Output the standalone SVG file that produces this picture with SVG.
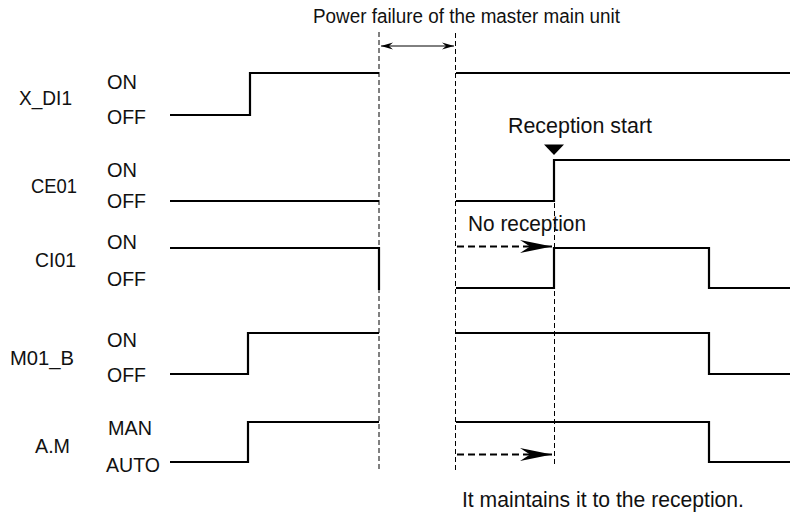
<svg xmlns="http://www.w3.org/2000/svg" width="790" height="517" viewBox="0 0 790 517">
<style>
text{font-family:"Liberation Sans",Arial,sans-serif;font-size:21px;fill:#111}
.big{font-size:21.5px}
.wave{fill:none;stroke:#000;stroke-width:2.2;stroke-linejoin:miter}
.guide{fill:none;stroke:#000;stroke-width:1;stroke-dasharray:5,3}
.darrow{fill:none;stroke:#000;stroke-width:2;stroke-dasharray:7,4}
.thin{fill:none;stroke:#000;stroke-width:1}
</style>
<defs>
<marker id="bighead" markerUnits="userSpaceOnUse" viewBox="-33 -7 34 14" refX="0" refY="0" markerWidth="34" markerHeight="14" orient="auto">
<path d="M0 0 L-32 -6.5 L-22 0 L-32 6.5 Z" fill="#000"/>
</marker>
<marker id="smallhead" markerUnits="userSpaceOnUse" viewBox="-13 -4 14 8" refX="0" refY="0" markerWidth="14" markerHeight="8" orient="auto-start-reverse">
<path d="M0 0 L-12 -3.5 L-8 0 L-12 3.5 Z" fill="#000"/>
</marker>
</defs>
<rect width="790" height="517" fill="#fff"/>
<g id="guides">
<line class="guide" x1="379" y1="32" x2="379" y2="472"/>
<line class="guide" x1="455.5" y1="33" x2="455.5" y2="472"/>
<line class="guide" x1="554.5" y1="203" x2="554.5" y2="467"/>
</g>
<g id="sig-xdi1">
<text x="19" y="105" textLength="53" lengthAdjust="spacingAndGlyphs">X_DI1</text>
<text x="107" y="89" textLength="30" lengthAdjust="spacingAndGlyphs">ON</text>
<text x="107" y="124" textLength="39" lengthAdjust="spacingAndGlyphs">OFF</text>
<path class="wave" d="M170 115 H250 V73 H379"/>
<path class="wave" d="M456 73 H790"/>
</g>
<g id="sig-ce01">
<text x="31" y="193" textLength="46" lengthAdjust="spacingAndGlyphs">CE01</text>
<text x="107" y="177" textLength="30" lengthAdjust="spacingAndGlyphs">ON</text>
<text x="107" y="208" textLength="39" lengthAdjust="spacingAndGlyphs">OFF</text>
<path class="wave" d="M170 201 H379"/>
<path class="wave" d="M456 201 H554 V160 H790"/>
</g>
<g id="sig-ci01">
<text x="35" y="267" textLength="41" lengthAdjust="spacingAndGlyphs">CI01</text>
<text x="107" y="249" textLength="30" lengthAdjust="spacingAndGlyphs">ON</text>
<text x="107" y="286" textLength="39" lengthAdjust="spacingAndGlyphs">OFF</text>
<path class="wave" d="M170 248 H379 V290"/>
<path class="wave" d="M456 288 H554 V248 H709 V288 H790"/>
</g>
<g id="sig-m01b">
<text x="10" y="365" textLength="64" lengthAdjust="spacingAndGlyphs">M01_B</text>
<text x="107" y="347" textLength="30" lengthAdjust="spacingAndGlyphs">ON</text>
<text x="107" y="382" textLength="39" lengthAdjust="spacingAndGlyphs">OFF</text>
<path class="wave" d="M170 374 H248 V333 H379"/>
<path class="wave" d="M456 333 H709 V374 H790"/>
</g>
<g id="sig-am">
<text x="35" y="453" textLength="35" lengthAdjust="spacingAndGlyphs">A.M</text>
<text x="108" y="435" textLength="44" lengthAdjust="spacingAndGlyphs">MAN</text>
<text x="106" y="472" textLength="54" lengthAdjust="spacingAndGlyphs">AUTO</text>
<path class="wave" d="M170 462 H248 V422 H379"/>
<path class="wave" d="M456 422 H709 V462 H790"/>
</g>
<g id="annotations">
<text x="313" y="23" style="font-size:19.5px" textLength="307" lengthAdjust="spacingAndGlyphs">Power failure of the master main unit</text>
<text class="big" x="508" y="133" textLength="144" lengthAdjust="spacingAndGlyphs">Reception start</text>
<path d="M544 144.5 H564 L554 155 Z" fill="#000"/>
<text class="big" x="468" y="231" textLength="118" lengthAdjust="spacingAndGlyphs">No reception</text>
<text class="big" x="462" y="507" textLength="282" lengthAdjust="spacingAndGlyphs">It maintains it to the reception.</text>
</g>
<g id="connectors">
<line class="thin" x1="381" y1="46" x2="454" y2="46" marker-start="url(#smallhead)" marker-end="url(#smallhead)"/>
<line class="darrow" x1="457" y1="246.5" x2="552" y2="246.5" marker-end="url(#bighead)"/>
<line class="darrow" x1="457" y1="454.5" x2="552" y2="454.5" marker-end="url(#bighead)"/>
</g>
</svg>
